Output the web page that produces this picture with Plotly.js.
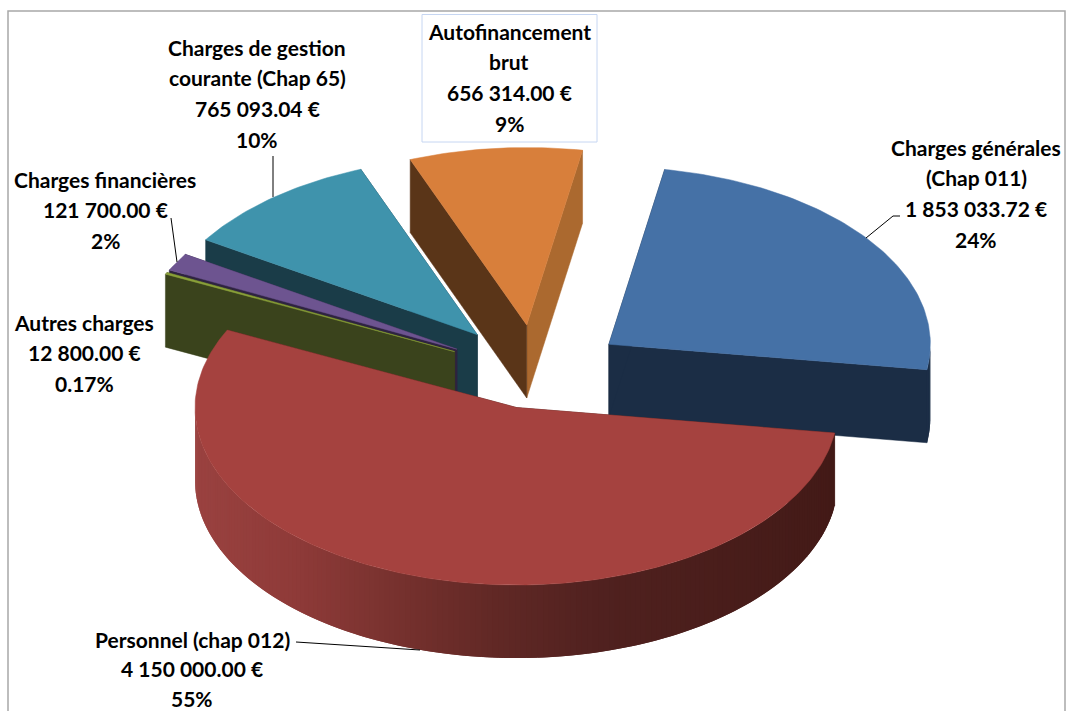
<!DOCTYPE html>
<html><head><meta charset="utf-8">
<script src="https://cdn.plot.ly/plotly-3.0.1.min.js"></script>
<style>html,body{margin:0;padding:0;background:#fff;overflow:hidden}#c{width:1066px;height:711px}</style>
</head><body><div id="c"></div>
<script>
// ---- data ----
const categories = ["Charges générales (Chap 011)","Personnel (chap 012)","Autres charges","Charges financières","Charges de gestion courante (Chap 65)","Autofinancement brut"];
const values = [1853033.72, 4150000.00, 12800.00, 121700.00, 765093.04, 656314.00];
const percents = ["24%","55%","0.17%","2%","10%","9%"];
const amounts = ["1 853 033.72 €","4 150 000.00 €","12 800.00 €","121 700.00 €","765 093.04 €","656 314.00 €"];
const nameLines = [["Charges générales","(Chap 011)"],["Personnel (chap 012)"],["Autres charges"],["Charges financières"],["Charges de gestion","courante (Chap 65)"],["Autofinancement","brut"]];
// ---- style ----
const topColors = ["#4571a6","#a5423f","#8aa03a","#6d5490","#3f93ac","#d87f3b"];
const wallStart = ["#1b2d45","#431a17","#3a431c","#2e2340","#1a3c48","#5a3518"];
const wallEnd   = ["#1b2d45","#431a17","#3a431c","#2e2340","#1a3c48","#ab692f"];
const explode   = [0.282,0.2,0.28,0.28,0.284,0.275];
const drawOrder = [0,5,4,3,2,1];
const labelX    = [976,192,84,105,257,509];
const labelY    = [147,639,322,179,47,31];
const pitches   = [30.7,29.5,30.7,30.7,30.7,30.7];
const rimRamp   = [[194,[154,66,64]],[300,[142,58,56]],[400,[118,49,46]],[500,[96,40,37]],[600,[80,33,31]],[835,[67,26,23]]];
const geom = {cx:535.4, cy:373.6, rx:321.5, ry:177.5, depth:73, startDeg:10};

const rad = d => d*Math.PI/180;
const total = values.reduce((a,b)=>a+b,0);
let acc = geom.startDeg;
const slices = values.map((v,i)=>{
  const a0 = acc, a1 = acc + v/total*360; acc = a1;
  const m = rad((a0+a1)/2);
  return {i, a0, a1,
    ax: geom.cx + explode[i]*geom.rx*Math.sin(m),
    ay: geom.cy - explode[i]*geom.ry*Math.cos(m)};
});
const rimPt = (s,a)=>[s.ax+geom.rx*Math.sin(rad(a)), s.ay-geom.ry*Math.cos(rad(a))];
const traces = [];
function poly(pts,color,w){
  traces.push({type:"scatter",mode:"lines",x:pts.map(p=>p[0]),y:pts.map(p=>p[1]),
    fill:"toself",fillcolor:color,line:{color:color,width:w===undefined?0.5:w},hoverinfo:"skip",showlegend:false});
}
function rampColor(x){
  for(let k=1;k<rimRamp.length;k++){
    if(x<=rimRamp[k][0]){
      const [x0,c0]=rimRamp[k-1],[x1,c1]=rimRamp[k];
      const t=Math.max(0,(x-x0)/(x1-x0));
      return "rgb("+c0.map((c,j)=>Math.round(c+(c1[j]-c)*t)).join(",")+")";
    }
  }
  const c=rimRamp[rimRamp.length-1][1];return "rgb("+c.join(",")+")";
}
const D = geom.depth;
drawOrder.forEach(i=>{
  const s = slices[i];
  const wall=(a,color)=>{const p=rimPt(s,a);
    poly([[s.ax,s.ay],p,[p[0],p[1]+D],[s.ax,s.ay+D],[s.ax,s.ay]],color);};
  wall(s.a1,wallEnd[i]);
  wall(s.a0,wallStart[i]);
  // rim wall: only the front half of the ellipse is visible.
  // Each strip runs on under the next one so that no seam shows.
  const lo=Math.max(s.a0,90), hi=Math.min(s.a1,270);
  if(hi>lo){
    const step=1;
    for(let a=lo;a<hi;a+=step){
      const mid=rimPt(s,a+step/2);
      const col=i===1?rampColor(mid[0]):wallEnd[i];
      const arc=[];
      for(let b=a;b<Math.min(a+2*step,hi);b+=0.5)arc.push(rimPt(s,b));
      arc.push(rimPt(s,Math.min(a+2*step,hi)));
      poly([...arc,...arc.slice().reverse().map(p=>[p[0],p[1]+D]),arc[0]],col,0);
    }
  }
  const pts=[[s.ax,s.ay]];
  for(let a=s.a0;a<s.a1;a+=1)pts.push(rimPt(s,a));
  pts.push(rimPt(s,s.a1));pts.push([s.ax,s.ay]);
  poly(pts,topColors[i]);
});

// labels: one annotation per text line, for the reference's line pitch
const annotations=[];
categories.forEach((c,i)=>{
  [...nameLines[i],amounts[i],percents[i]].forEach((t,k)=>{
    annotations.push({xref:"x",yref:"y",x:labelX[i],y:labelY[i]+k*pitches[i],text:"<b>"+t+"</b>",
      showarrow:false,xanchor:"center",yanchor:"middle",
      font:{family:"Lato, sans-serif",size:21,color:"#000"}});
  });
});
const seg=(pts,color,w)=>({type:"path",xref:"x",yref:"y",
  path:"M"+pts.map(p=>p.join(",")).join("L"),line:{color:color,width:w}});
const shapes=[
  seg([[8,711],[8,11],[1065,11],[1065,711]],"#a8a8a8",1.5),
  {type:"rect",xref:"x",yref:"y",x0:422,y0:14.5,x1:597,y1:142,line:{color:"#c6d6f2",width:1},fillcolor:"rgba(0,0,0,0)"},
  seg([[866,238],[893,216],[900,216]],"#000",1),
  seg([[296,642],[420,650]],"#000",1),
  seg([[273,156],[273,197]],"#000",1),
  seg([[171,218],[177,262]],"#000",1)
];
Plotly.newPlot("c",traces,{
  width:1066,height:711,margin:{l:0,r:0,t:0,b:0},paper_bgcolor:"#fff",plot_bgcolor:"#fff",showlegend:false,
  xaxis:{range:[0,1066],visible:false,fixedrange:true},
  yaxis:{range:[711,0],visible:false,fixedrange:true},
  annotations,shapes,hovermode:false
},{displayModeBar:false,staticPlot:true});
</script></body></html>
